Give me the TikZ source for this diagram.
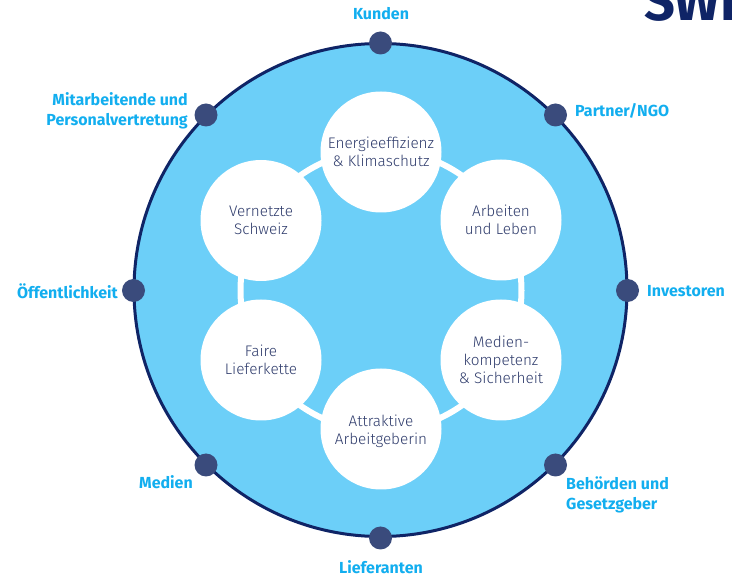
\documentclass[tikz,border=0pt]{standalone}
\usepackage{fontspec}
\setmainfont{Fira Sans}
\newfontfamily\lightface{Fira Sans Light}
\definecolor{skyfill}{HTML}{6CCFF8}
\definecolor{navyring}{HTML}{0F2466}
\definecolor{dotblue}{HTML}{3A4B7C}
\definecolor{labelblue}{HTML}{12AEEF}
\definecolor{textnavy}{HTML}{2F3C6C}
\tikzset{
  topic/.style={circle,fill=white,minimum size=121pt,inner sep=0pt,align=center,text=textnavy,font=\lightface\fontsize{15.3}{18}\selectfont},
  stake/.style={circle,fill=dotblue,minimum size=23pt,inner sep=0pt},
  lab/.style={text=labelblue,font=\bfseries\fontsize{16}{20}\selectfont,inner sep=0pt,align=center},
}
\begin{document}
\begin{tikzpicture}[x=1pt,y=-1pt]
\useasboundingbox (0,0) rectangle (732,577);
\node[draw=navyring,line width=3pt,fill=skyfill,circle,minimum size=493pt,inner sep=0pt] (big) at (380.5,290) {};
\node[draw=white,line width=6pt,circle,minimum size=281pt,inner sep=0pt] (ring) at (381,290.5) {};
\node[topic] (t1) at (381,152) {Energieeffizienz\\\& Klimaschutz};
\node[topic] (t2) at (501,220) {Arbeiten\\und Leben};
\node[topic] (t3) at (501,360) {Medien-\\kompetenz\\\& Sicherheit};
\node[topic] (t4) at (381,429) {};
\node[text=textnavy,align=center,inner sep=0pt,font=\lightface\fontsize{15.3}{18}\selectfont] (t4t) at (381,431) {Attraktive\\Arbeitgeberin};
\node[topic] (t5) at (261,360) {Faire\\Lieferkette};
\node[topic] (t6) at (261,220.5) {Vernetzte\\Schweiz};
\node[stake] (s1) at (380.5,43) {};
\node[stake] (s2) at (555.5,115) {};
\node[stake] (s3) at (627.5,290.5) {};
\node[stake] (s4) at (555.5,465) {};
\node[stake] (s5) at (380.5,538) {};
\node[stake] (s6) at (206,465) {};
\node[stake] (s7) at (133.5,290.5) {};
\node[stake] (s8) at (206,115) {};
\node[lab] (l1) at (381,14) {Kunden};
\node[lab,anchor=west] (l2) at (575,111) {Partner/NGO};
\node[lab,anchor=west] (l3) at (647,291) {Investoren};
\node[lab,anchor=west,align=left] (l4) at (566,494.5) {Behörden und\\Gesetzgeber};
\node[lab] (l5) at (381,567) {Lieferanten};
\node[lab,anchor=east] (l6) at (193,482) {Medien};
\node[lab,anchor=east] (l7) at (118,291) {Öffentlichkeit};
\node[lab,anchor=east,align=right] (l8) at (188,111) {Mitarbeitende und\\Personalvertretung};
\begin{scope}
\clip (630,0) rectangle (732,22);
\node[anchor=base west,inner sep=0pt,text=navyring,font=\bfseries\fontsize{54}{54}\selectfont] (logo) at (644,21) {SWI};
\end{scope}
\end{tikzpicture}
\end{document}
